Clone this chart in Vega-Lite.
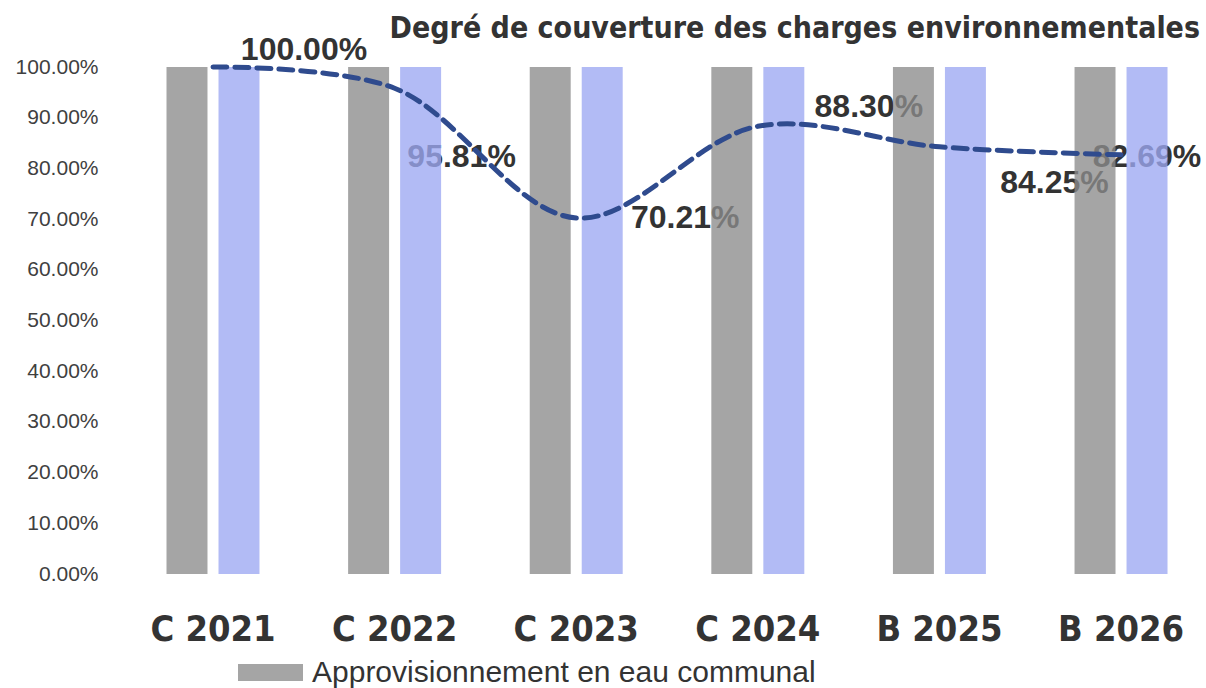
{
  "$schema": "https://vega.github.io/schema/vega-lite/v6.json",
  "autosize": {"type": "none"},
  "width": 1090,
  "height": 507,
  "padding": {"left": 110, "top": 67, "right": 6, "bottom": 114},
  "background": "white",
  "title": {
    "text": "Degré de couverture des charges environnementales",
    "anchor": "end",
    "frame": "group",
    "font": "DejaVu Sans Condensed, sans-serif",
    "fontSize": 30,
    "fontWeight": "bold",
    "color": "#333333",
    "offset": -10
  },
  "config": {
    "view": {"stroke": null},
    "axis": {"grid": false, "domain": false, "ticks": false}
  },
  "datasets": {
    "bars": [
      {"cat": "C 2021", "series": "Approvisionnement en eau communal", "val": 1},
      {"cat": "C 2021", "series": "Série 2", "val": 1},
      {"cat": "C 2022", "series": "Approvisionnement en eau communal", "val": 1},
      {"cat": "C 2022", "series": "Série 2", "val": 1},
      {"cat": "C 2023", "series": "Approvisionnement en eau communal", "val": 1},
      {"cat": "C 2023", "series": "Série 2", "val": 1},
      {"cat": "C 2024", "series": "Approvisionnement en eau communal", "val": 1},
      {"cat": "C 2024", "series": "Série 2", "val": 1},
      {"cat": "B 2025", "series": "Approvisionnement en eau communal", "val": 1},
      {"cat": "B 2025", "series": "Série 2", "val": 1},
      {"cat": "B 2026", "series": "Approvisionnement en eau communal", "val": 1},
      {"cat": "B 2026", "series": "Série 2", "val": 1}
    ],
    "taux": [
      {"cat": "C 2021", "taux": 1.0},
      {"cat": "C 2022", "taux": 0.9581},
      {"cat": "C 2023", "taux": 0.7021},
      {"cat": "C 2024", "taux": 0.8830},
      {"cat": "B 2025", "taux": 0.8425},
      {"cat": "B 2026", "taux": 0.8269}
    ]
  },
  "encoding": {
    "x": {
      "field": "cat",
      "type": "nominal",
      "sort": ["C 2021", "C 2022", "C 2023", "C 2024", "B 2025", "B 2026"],
      "scale": {"paddingInner": 0.488, "paddingOuter": 0.245, "align": 0.635},
      "axis": {
        "title": null,
        "labelAngle": 0,
        "labelFont": "DejaVu Sans Condensed, sans-serif",
        "labelFontSize": 36,
        "labelFontWeight": "bold",
        "labelColor": "#333333",
        "labelPadding": 38
      }
    }
  },
  "layer": [
    {
      "data": {"name": "taux"},
      "transform": [{"filter": "datum.cat == 'C 2021'"}],
      "mark": {"type": "text", "dx": 91, "dy": -17, "fontSize": 32, "fontWeight": "bold", "font": "Liberation Sans", "color": "#333333"},
      "encoding": {"y": {"field": "taux", "type": "quantitative", "scale": {"domain": [0, 1], "nice": false}}, "text": {"field": "taux", "format": ".2%"}}
    },
    {
      "data": {"name": "taux"},
      "transform": [{"filter": "datum.cat == 'C 2022'"}],
      "mark": {"type": "text", "dx": 67, "dy": 69, "fontSize": 32, "fontWeight": "bold", "font": "Liberation Sans", "color": "#333333"},
      "encoding": {"y": {"field": "taux", "type": "quantitative"}, "text": {"field": "taux", "format": ".2%"}}
    },
    {
      "data": {"name": "taux"},
      "transform": [{"filter": "datum.cat == 'C 2023'"}],
      "mark": {"type": "text", "dx": 109, "dy": 0, "fontSize": 32, "fontWeight": "bold", "font": "Liberation Sans", "color": "#333333"},
      "encoding": {"y": {"field": "taux", "type": "quantitative"}, "text": {"field": "taux", "format": ".2%"}}
    },
    {
      "data": {"name": "taux"},
      "transform": [{"filter": "datum.cat == 'C 2024'"}],
      "mark": {"type": "text", "dx": 111, "dy": -19, "fontSize": 32, "fontWeight": "bold", "font": "Liberation Sans", "color": "#333333"},
      "encoding": {"y": {"field": "taux", "type": "quantitative"}, "text": {"field": "taux", "format": ".2%"}}
    },
    {
      "data": {"name": "taux"},
      "transform": [{"filter": "datum.cat == 'B 2025'"}],
      "mark": {"type": "text", "dx": 115, "dy": 36, "fontSize": 32, "fontWeight": "bold", "font": "Liberation Sans", "color": "#333333"},
      "encoding": {"y": {"field": "taux", "type": "quantitative"}, "text": {"field": "taux", "format": ".2%"}}
    },
    {
      "data": {"name": "taux"},
      "transform": [{"filter": "datum.cat == 'B 2026'"}],
      "mark": {"type": "text", "dx": 26, "dy": 2, "fontSize": 32, "fontWeight": "bold", "font": "Liberation Sans", "color": "#333333"},
      "encoding": {"y": {"field": "taux", "type": "quantitative"}, "text": {"field": "taux", "format": ".2%"}}
    },
    {
      "data": {"name": "bars"},
      "mark": {"type": "bar", "opacity": 0.78},
      "encoding": {
        "xOffset": {"field": "series", "type": "nominal", "sort": ["Approvisionnement en eau communal", "Série 2"], "scale": {"paddingInner": 0.212, "paddingOuter": 0}},
        "y": {
          "field": "val",
          "type": "quantitative",
          "scale": {"domain": [0, 1], "nice": false},
          "axis": {
            "title": null,
            "format": ".2%",
            "values": [0, 0.1, 0.2, 0.3, 0.4, 0.5, 0.6, 0.7, 0.8, 0.9, 1],
            "labelFont": "Liberation Sans",
            "labelFontSize": 21,
            "labelColor": "#404040",
            "labelPadding": 12
          }
        },
        "color": {
          "field": "series",
          "type": "nominal",
          "scale": {"domain": ["Approvisionnement en eau communal", "Série 2"], "range": ["#8c8c8c", "#9ca8f2"]},
          "legend": {
            "values": ["Approvisionnement en eau communal"],
            "title": null,
            "orient": "none",
            "legendX": 128,
            "legendY": 573,
            "padding": 0,
            "symbolType": "M-1,-0.26H1V0.26H-1Z",
            "symbolSize": 4225,
            "symbolOpacity": 0.78,
            "symbolStrokeWidth": 0,
            "labelFont": "Liberation Sans",
            "labelFontSize": 30,
            "labelColor": "#333333",
            "labelOffset": 9,
            "labelLimit": 800
          }
        }
      }
    },
    {
      "data": {"name": "taux"},
      "mark": {"type": "line", "interpolate": "catmull-rom", "color": "#2f4b8e", "strokeWidth": 5, "strokeDash": [14, 8], "strokeCap": "round"},
      "encoding": {"y": {"field": "taux", "type": "quantitative"}}
    }
  ]
}
